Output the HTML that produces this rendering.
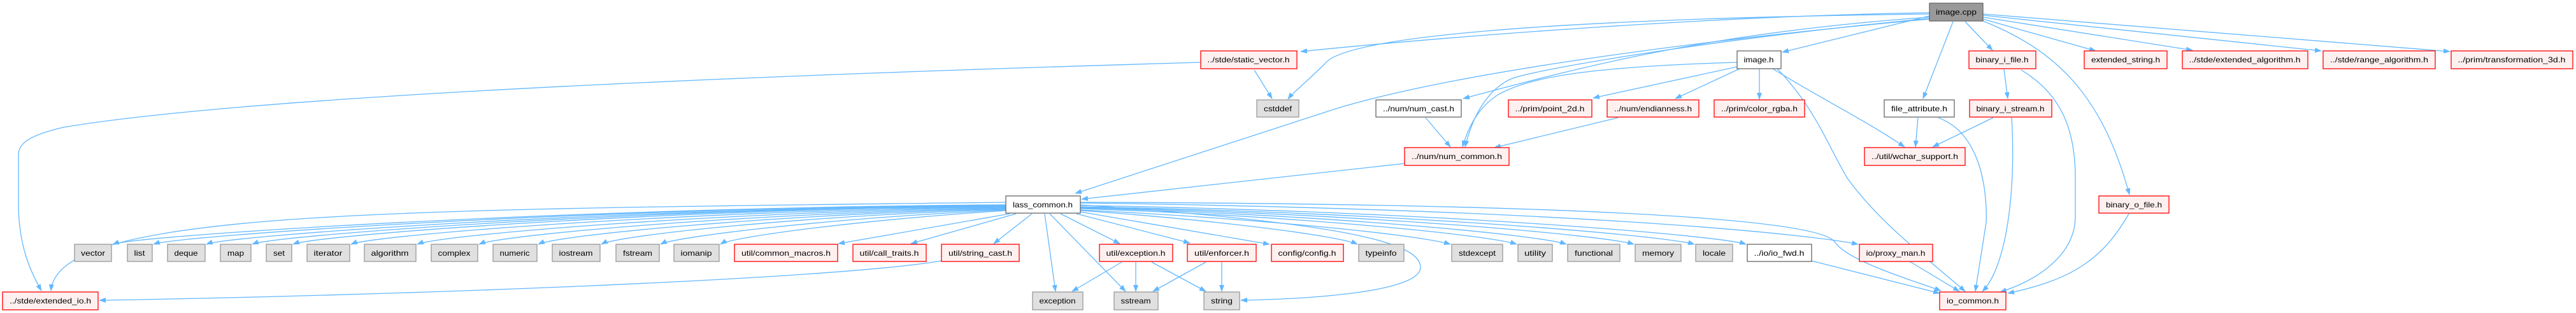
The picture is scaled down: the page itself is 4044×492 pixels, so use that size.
<!DOCTYPE html>
<html><head><meta charset="utf-8"><style>
html,body{margin:0;padding:0;background:#fff;}
svg{display:block;}
text{font-family:"Liberation Sans",sans-serif;font-size:12px;fill:#000;}
.e{fill:none;stroke:#63b8ff;stroke-width:1.3;}
.r{fill:#fff0f0;stroke:#ff0000;stroke-width:1.3;}
.g{fill:#e0e0e0;stroke:#999;stroke-width:1.3;}
.w{fill:#fff;stroke:#666;stroke-width:1.3;}
.k{fill:#999;stroke:#666;stroke-width:1.3;}
</style></head><body>
<svg width="4044" height="492" viewBox="0 0 4044 492" xmlns="http://www.w3.org/2000/svg">
<defs><marker id="a" markerUnits="userSpaceOnUse" markerWidth="11" markerHeight="8" refX="10" refY="4" orient="auto"><path d="M0,0 L11,4 L0,8 z" fill="#63b8ff"/></marker></defs>
<g marker-end="url(#a)">
<!-- image.cpp edges -->
<path class="e" d="M3029,20 C2700,25 2300,55 2042,81"/>
<path class="e" d="M3029,22 C2400,30 2110,60 2080,100 C2050,130 2030,145 2022,156"/>
<path class="e" d="M3029,30 C2700,60 2300,110 2100,170 L1688,304"/>
<path class="e" d="M3029,27 C2700,50 2500,100 2297,155"/>
<path class="e" d="M3029,29 C2700,60 2400,110 2370,125 C2330,145 2310,190 2300,231"/>
<path class="e" d="M3029,25 L2798,82"/>
<path class="e" d="M3066,34 L3019,155"/>
<path class="e" d="M3085,34 L3128,79"/>
<path class="e" d="M3113,33 C3230,80 3300,150 3343,306"/>
<path class="e" d="M3113,30 L3290,80"/>
<path class="e" d="M3113,27 L3442,79"/>
<path class="e" d="M3113,24 L3644,80"/>
<path class="e" d="M3113,22 L3846,81"/>
<!-- image.h edges -->
<path class="e" d="M2727,105 L2501,154"/>
<path class="e" d="M2731,108 L2630,155"/>
<path class="e" d="M2762,108 L2762,156"/>
<path class="e" d="M2783,108 C2850,150 2930,190 2990,231"/>
<path class="e" d="M2790,108 C2850,170 2870,230 2900,280 C2950,350 3030,410 3085,458"/>
<path class="e" d="M2727,98 C2500,105 2400,120 2350,150 C2320,170 2305,200 2296,231"/>
<!-- static_vector -->
<path class="e" d="M1969,110 L1997,155"/>
<path class="e" d="M1885,98 C1200,118 400,150 100,200 C35,215 29,230 29,245 L29,320 C29,390 50,430 65,457"/>
<!-- num -->
<path class="e" d="M2238,185 L2277,231"/>
<path class="e" d="M2540,185 L2346,232"/>
<path class="e" d="M2205,257 L1698,313"/>
<!-- file stuff -->
<path class="e" d="M3011,185 L3007,231"/>
<path class="e" d="M3043,185 C3110,210 3120,300 3118,350 L3101,458"/>
<path class="e" d="M3129,185 L3034,231"/>
<path class="e" d="M3158,185 C3165,300 3150,420 3112,458"/>
<path class="e" d="M3146,109 L3152,155"/>
<path class="e" d="M3173,110 C3240,150 3258,210 3258,280 L3258,340 C3258,400 3200,440 3140,459"/>
<path class="e" d="M3342,336 C3300,410 3250,440 3152,461"/>
<path class="e" d="M2844,410 L3045,461"/>
<path class="e" d="M2998,411 L3076,458"/>
<!-- lass_common edges -->
<path class="e" d="M1579,318 C600,330 90,330 80,457"/>
<path class="e" d="M1579,322 C900,326 215,370 177,384"/>
<path class="e" d="M1579,322 C920,327 280,370 241,384"/>
<path class="e" d="M1579,323 C950,328 360,370 324,384"/>
<path class="e" d="M1579,323 C980,329 430,370 396,384"/>
<path class="e" d="M1579,324 C1010,330 495,370 460,384"/>
<path class="e" d="M1579,325 C1050,332 585,370 551,384"/>
<path class="e" d="M1579,326 C1100,334 690,370 655,384"/>
<path class="e" d="M1579,327 C1150,336 785,370 752,384"/>
<path class="e" d="M1579,328 C1200,338 875,370 845,384"/>
<path class="e" d="M1579,329 C1250,340 970,370 944,384"/>
<path class="e" d="M1579,330 C1300,343 1060,372 1037,384"/>
<path class="e" d="M1579,331 C1350,346 1150,372 1131,384"/>
<path class="e" d="M1585,336 L1316,383"/>
<path class="e" d="M1595,336 L1430,383"/>
<path class="e" d="M1620,336 L1560,383"/>
<path class="e" d="M1478,410 C1300,440 600,465 156,472"/>
<path class="e" d="M1640,336 L1657,458"/>
<path class="e" d="M1648,336 L1767,458"/>
<path class="e" d="M1665,336 L1758,383"/>
<path class="e" d="M1690,336 L1868,382"/>
<path class="e" d="M1696,333 L1993,384"/>
<path class="e" d="M1696,331 C1900,345 2100,370 2131,384"/>
<path class="e" d="M1696,330 C2000,345 2230,370 2277,384"/>
<path class="e" d="M1696,328 C2050,340 2340,370 2381,384"/>
<path class="e" d="M1696,327 C2100,338 2420,370 2459,384"/>
<path class="e" d="M1696,326 C2150,336 2520,370 2565,384"/>
<path class="e" d="M1696,325 C2200,334 2610,370 2660,384"/>
<path class="e" d="M1696,323 C2250,332 2700,370 2741,384"/>
<path class="e" d="M1696,319 C2500,330 2850,370 2917,384"/>
<path class="e" d="M1696,318 C2400,320 2850,340 2880,380 C2900,410 3000,440 3047,457"/>
<path class="e" d="M1696,322 C2100,350 2230,380 2230,420 C2230,460 2050,470 1948,472"/>
<!-- util edges -->
<path class="e" d="M1761,412 L1683,458"/>
<path class="e" d="M1783,412 L1783,458"/>
<path class="e" d="M1808,412 L1893,458"/>
<path class="e" d="M1893,412 L1810,458"/>
<path class="e" d="M1918,412 L1918,458"/>
</g>
<!-- nodes -->
<g>
<rect class="k" x="3029" y="5" width="84" height="28"/><text x="3071" y="23" text-anchor="middle" textLength="64" lengthAdjust="spacingAndGlyphs">image.cpp</text>
<rect class="r" x="1885" y="80" width="151" height="28"/><text x="1960" y="98" text-anchor="middle" textLength="129" lengthAdjust="spacingAndGlyphs">../stde/static_vector.h</text>
<rect class="w" x="2727" y="80" width="69" height="28"/><text x="2761" y="98" text-anchor="middle" textLength="47" lengthAdjust="spacingAndGlyphs">image.h</text>
<rect class="r" x="3091" y="80" width="105" height="28"/><text x="3143" y="98" text-anchor="middle" textLength="83" lengthAdjust="spacingAndGlyphs">binary_i_file.h</text>
<rect class="r" x="3272" y="80" width="130" height="28"/><text x="3337" y="98" text-anchor="middle" textLength="108" lengthAdjust="spacingAndGlyphs">extended_string.h</text>
<rect class="r" x="3426" y="80" width="197" height="28"/><text x="3524" y="98" text-anchor="middle" textLength="175" lengthAdjust="spacingAndGlyphs">../stde/extended_algorithm.h</text>
<rect class="r" x="3647" y="80" width="176" height="28"/><text x="3735" y="98" text-anchor="middle" textLength="154" lengthAdjust="spacingAndGlyphs">../stde/range_algorithm.h</text>
<rect class="r" x="3848" y="80" width="191" height="28"/><text x="3943" y="98" text-anchor="middle" textLength="169" lengthAdjust="spacingAndGlyphs">../prim/transformation_3d.h</text>

<rect class="g" x="1973" y="157" width="66" height="27"/><text x="2006" y="175" text-anchor="middle" textLength="44" lengthAdjust="spacingAndGlyphs">cstddef</text>
<rect class="w" x="2160" y="157" width="134" height="27"/><text x="2227" y="175" text-anchor="middle" textLength="112" lengthAdjust="spacingAndGlyphs">../num/num_cast.h</text>
<rect class="r" x="2368" y="157" width="131" height="27"/><text x="2433" y="175" text-anchor="middle" textLength="109" lengthAdjust="spacingAndGlyphs">../prim/point_2d.h</text>
<rect class="r" x="2523" y="157" width="144" height="27"/><text x="2595" y="175" text-anchor="middle" textLength="122" lengthAdjust="spacingAndGlyphs">../num/endianness.h</text>
<rect class="r" x="2691" y="157" width="142" height="27"/><text x="2762" y="175" text-anchor="middle" textLength="120" lengthAdjust="spacingAndGlyphs">../prim/color_rgba.h</text>
<rect class="w" x="2958" y="157" width="110" height="27"/><text x="3013" y="175" text-anchor="middle" textLength="88" lengthAdjust="spacingAndGlyphs">file_attribute.h</text>
<rect class="r" x="3092" y="157" width="129" height="27"/><text x="3156" y="175" text-anchor="middle" textLength="107" lengthAdjust="spacingAndGlyphs">binary_i_stream.h</text>

<rect class="r" x="2205" y="232" width="164" height="28"/><text x="2287" y="250" text-anchor="middle" textLength="142" lengthAdjust="spacingAndGlyphs">../num/num_common.h</text>
<rect class="r" x="2927" y="232" width="158" height="28"/><text x="3006" y="250" text-anchor="middle" textLength="136" lengthAdjust="spacingAndGlyphs">../util/wchar_support.h</text>

<rect class="w" x="1579" y="308" width="117" height="27"/><text x="1637" y="326" text-anchor="middle" textLength="94" lengthAdjust="spacingAndGlyphs">lass_common.h</text>
<rect class="r" x="3295" y="308" width="110" height="27"/><text x="3350" y="326" text-anchor="middle" textLength="88" lengthAdjust="spacingAndGlyphs">binary_o_file.h</text>

<rect class="g" x="117" y="384" width="58" height="27"/><text x="146" y="402" text-anchor="middle" textLength="38" lengthAdjust="spacingAndGlyphs">vector</text>
<rect class="g" x="200" y="384" width="39" height="27"/><text x="219" y="402" text-anchor="middle" textLength="17" lengthAdjust="spacingAndGlyphs">list</text>
<rect class="g" x="263" y="384" width="59" height="27"/><text x="292" y="402" text-anchor="middle" textLength="37" lengthAdjust="spacingAndGlyphs">deque</text>
<rect class="g" x="346" y="384" width="48" height="27"/><text x="370" y="402" text-anchor="middle" textLength="26" lengthAdjust="spacingAndGlyphs">map</text>
<rect class="g" x="418" y="384" width="40" height="27"/><text x="438" y="402" text-anchor="middle" textLength="18" lengthAdjust="spacingAndGlyphs">set</text>
<rect class="g" x="482" y="384" width="67" height="27"/><text x="515" y="402" text-anchor="middle" textLength="45" lengthAdjust="spacingAndGlyphs">iterator</text>
<rect class="g" x="572" y="384" width="81" height="27"/><text x="612" y="402" text-anchor="middle" textLength="59" lengthAdjust="spacingAndGlyphs">algorithm</text>
<rect class="g" x="677" y="384" width="73" height="27"/><text x="713" y="402" text-anchor="middle" textLength="51" lengthAdjust="spacingAndGlyphs">complex</text>
<rect class="g" x="774" y="384" width="69" height="27"/><text x="808" y="402" text-anchor="middle" textLength="47" lengthAdjust="spacingAndGlyphs">numeric</text>
<rect class="g" x="867" y="384" width="75" height="27"/><text x="904" y="402" text-anchor="middle" textLength="53" lengthAdjust="spacingAndGlyphs">iostream</text>
<rect class="g" x="967" y="384" width="68" height="27"/><text x="1001" y="402" text-anchor="middle" textLength="46" lengthAdjust="spacingAndGlyphs">fstream</text>
<rect class="g" x="1058" y="384" width="71" height="27"/><text x="1093" y="402" text-anchor="middle" textLength="49" lengthAdjust="spacingAndGlyphs">iomanip</text>
<rect class="r" x="1153" y="384" width="162" height="27"/><text x="1234" y="402" text-anchor="middle" textLength="140" lengthAdjust="spacingAndGlyphs">util/common_macros.h</text>
<rect class="r" x="1339" y="384" width="115" height="27"/><text x="1396" y="402" text-anchor="middle" textLength="93" lengthAdjust="spacingAndGlyphs">util/call_traits.h</text>
<rect class="r" x="1478" y="384" width="122" height="27"/><text x="1539" y="402" text-anchor="middle" textLength="100" lengthAdjust="spacingAndGlyphs">util/string_cast.h</text>
<rect class="r" x="1726" y="384" width="115" height="27"/><text x="1783" y="402" text-anchor="middle" textLength="93" lengthAdjust="spacingAndGlyphs">util/exception.h</text>
<rect class="r" x="1864" y="384" width="108" height="27"/><text x="1918" y="402" text-anchor="middle" textLength="86" lengthAdjust="spacingAndGlyphs">util/enforcer.h</text>
<rect class="r" x="1996" y="384" width="113" height="27"/><text x="2052" y="402" text-anchor="middle" textLength="91" lengthAdjust="spacingAndGlyphs">config/config.h</text>
<rect class="g" x="2133" y="384" width="71" height="27"/><text x="2168" y="402" text-anchor="middle" textLength="49" lengthAdjust="spacingAndGlyphs">typeinfo</text>
<rect class="g" x="2279" y="384" width="80" height="27"/><text x="2319" y="402" text-anchor="middle" textLength="58" lengthAdjust="spacingAndGlyphs">stdexcept</text>
<rect class="g" x="2383" y="384" width="54" height="27"/><text x="2410" y="402" text-anchor="middle" textLength="34" lengthAdjust="spacingAndGlyphs">utility</text>
<rect class="g" x="2461" y="384" width="82" height="27"/><text x="2502" y="402" text-anchor="middle" textLength="60" lengthAdjust="spacingAndGlyphs">functional</text>
<rect class="g" x="2567" y="384" width="72" height="27"/><text x="2603" y="402" text-anchor="middle" textLength="50" lengthAdjust="spacingAndGlyphs">memory</text>
<rect class="g" x="2662" y="384" width="58" height="27"/><text x="2691" y="402" text-anchor="middle" textLength="36" lengthAdjust="spacingAndGlyphs">locale</text>
<rect class="w" x="2743" y="384" width="101" height="27"/><text x="2793" y="402" text-anchor="middle" textLength="79" lengthAdjust="spacingAndGlyphs">../io/io_fwd.h</text>
<rect class="r" x="2919" y="384" width="115" height="27"/><text x="2976" y="402" text-anchor="middle" textLength="93" lengthAdjust="spacingAndGlyphs">io/proxy_man.h</text>

<rect class="r" x="4" y="459" width="150" height="28"/><text x="79" y="477" text-anchor="middle" textLength="128" lengthAdjust="spacingAndGlyphs">../stde/extended_io.h</text>
<rect class="g" x="1621" y="459" width="79" height="28"/><text x="1660" y="477" text-anchor="middle" textLength="57" lengthAdjust="spacingAndGlyphs">exception</text>
<rect class="g" x="1749" y="459" width="69" height="28"/><text x="1783" y="477" text-anchor="middle" textLength="47" lengthAdjust="spacingAndGlyphs">sstream</text>
<rect class="g" x="1890" y="459" width="56" height="28"/><text x="1918" y="477" text-anchor="middle" textLength="34" lengthAdjust="spacingAndGlyphs">string</text>
<rect class="r" x="3045" y="459" width="104" height="28"/><text x="3097" y="477" text-anchor="middle" textLength="82" lengthAdjust="spacingAndGlyphs">io_common.h</text>
</g>
</svg>
</body></html>
